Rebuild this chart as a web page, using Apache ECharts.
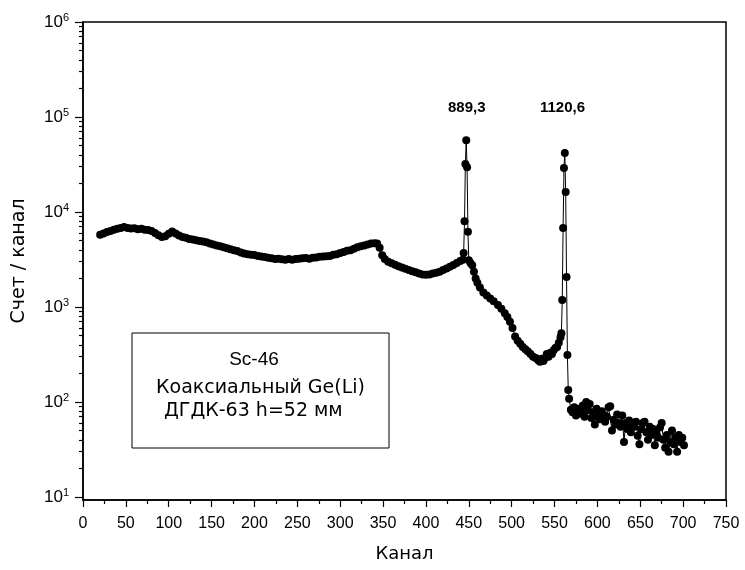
<!DOCTYPE html>
<html><head><meta charset="utf-8">
<script src="https://cdn.jsdelivr.net/npm/echarts@6/dist/echarts.min.js"></script>
<style>html,body{margin:0;padding:0;background:#fff}#c{width:745px;height:570px}</style>
</head><body><div id="c"></div>
<script>
var channels = [20,24,28,32,36,40,44,48,52,56,60,64,68,72,76,80,84,88,92,96,100,104,108,112,116,120,124,128,132,136,140,144,148,152,156,160,164,168,172,176,180,184,188,192,196,200,204,208,212,216,220,224,228,232,236,240,244,248,252,256,260,264,268,272,276,280,284,288,292,296,300,304,308,312,316,320,324,328,332,336,340,343,346,349,352,356,360,364,368,372,376,380,384,388,392,396,400,404,408,412,416,420,424,428,432,436,440,443,444,445,446,447,448,449,450,452,454,456,458,460,463,467,471,475,479,484,488,492,495,498,501,504,507,510,513,516,519,522,525,528,531,533,535,537,539,541,543,545,547,549,551,553,555,557,558,559,560,561,562,563,564,565,566,567,569,571,573,575,577,579,581,583,585,587,589,591,593,595,597,599,601,603,605,607,609,611,613,615,617,619,621,623,625,627,629,631,633,635,637,639,641,643,645,647,649,651,653,655,657,659,661,663,665,667,669,671,673,675,677,679,681,683,685,687,689,691,693,695,697,699,701];
var counts = [5750,5950,6150,6300,6500,6650,6800,6950,6800,6700,6750,6600,6650,6500,6450,6300,6000,5700,5450,5550,5900,6250,5950,5650,5450,5350,5200,5150,5050,4950,4900,4800,4650,4550,4450,4350,4250,4150,4050,3950,3880,3750,3650,3600,3550,3520,3450,3400,3350,3300,3250,3200,3220,3180,3150,3200,3150,3200,3230,3250,3280,3220,3300,3320,3380,3400,3420,3450,3550,3600,3700,3800,3900,3950,4100,4250,4350,4450,4550,4650,4700,4650,4200,3500,3200,3000,2880,2780,2680,2600,2530,2450,2380,2320,2250,2200,2180,2200,2250,2300,2350,2450,2550,2650,2770,2900,3050,3150,3700,8000,32000,57000,29500,6200,3100,2900,2750,2350,2000,1800,1600,1420,1320,1230,1150,1050,960,860,785,700,600,490,440,410,380,360,340,320,300,290,275,265,285,270,290,320,300,330,320,350,370,380,420,480,530,1185,6800,29000,41800,16200,2070,313,134,108,83,78,88,72,80,85,75,92,70,100,82,95,68,78,58,85,72,66,80,74,62,70,88,90,50,65,58,74,60,55,72,38,60,52,64,48,58,55,62,44,36,52,60,62,48,40,55,45,52,35,46,42,54,60,40,33,45,30,38,50,36,42,30,45,38,42,35];
var xTicks = [0,50,100,150,200,250,300,350,400,450,500,550,600,650,700,750];
var yMajor = [10,100,1000,10000,100000,1000000];
var yMinor = [];
[10,100,1000,10000,100000].forEach(function(d){for(var k=2;k<=9;k++) yMinor.push(d*k);});
var peakLabels = ['889,3','1120,6'];
var boxLines = ['Sc-46',' Коаксиальный Ge(Li)','ДГДК-63 h=52 мм'];

var FONT = '"Liberation Sans", Arial, sans-serif';
var WFONT = '"DejaVu Sans", "Liberation Sans", sans-serif';
var data = channels.map(function(c,i){return [c, counts[i]];});
var chart = echarts.init(document.getElementById('c'), null, {renderer:'canvas'});
var yMin = Math.pow(10, 6 - 478/95);
chart.setOption({
  animation:false,
  backgroundColor:'#fff',
  grid:{left:83,right:19,top:22,bottom:70,show:true,borderColor:'#000',borderWidth:1.5,backgroundColor:'transparent'},
  xAxis:{type:'value',min:0,max:750,interval:50,
    axisLine:{lineStyle:{color:'#000',width:1.5}},
    axisTick:{length:7,lineStyle:{color:'#000',width:1.2}},
    minorTick:{show:true,splitNumber:2,length:4,lineStyle:{color:'#000',width:1.2}},
    splitLine:{show:false},minorSplitLine:{show:false},
    axisLabel:{color:'#000',fontSize:16,fontFamily:FONT,margin:16,customValues:xTicks},
    name:'Канал',nameLocation:'middle',nameGap:45,
    nameTextStyle:{color:'#000',fontSize:18,fontFamily:WFONT}},
  yAxis:[{type:'log',logBase:10,min:yMin,max:1000000,position:'left',
    axisLine:{show:true,lineStyle:{color:'#000',width:1.5}},
    axisTick:{show:true,length:8,customValues:yMajor,lineStyle:{color:'#000',width:1.2}},
    splitLine:{show:false},
    axisLabel:{customValues:yMajor,margin:14,color:'#000',fontFamily:FONT,
      formatter:function(v){var e=Math.round(Math.log10(v));return '{b|10}{s|'+e+'}';},
      rich:{b:{fontSize:17,fontFamily:FONT,color:'#000'},s:{fontSize:11,fontFamily:FONT,color:'#000',padding:[0,0,9,0]}}},
    name:'Счет / канал',nameLocation:'middle',nameGap:54,
    nameTextStyle:{color:'#000',fontSize:19,fontFamily:WFONT}},
   {type:'log',logBase:10,min:yMin,max:1000000,position:'left',
    axisLine:{show:false},splitLine:{show:false},axisLabel:{show:false},
    axisTick:{show:true,length:4,customValues:yMinor,lineStyle:{color:'#000',width:1.2}}}],
  series:[{type:'line',data:data,yAxisIndex:0,symbol:'circle',symbolSize:8,showAllSymbol:true,
    itemStyle:{color:'#000'},lineStyle:{color:'#000',width:1}}],
  graphic:[
    {type:'text',left:448,top:100,style:{text:peakLabels[0],font:'bold 15px '+FONT,fill:'#000'}},
    {type:'text',left:540,top:100,style:{text:peakLabels[1],font:'bold 15px '+FONT,fill:'#000'}},
    {type:'rect',shape:{x:132,y:333,width:257,height:115},style:{fill:'#fff',stroke:'#000',lineWidth:1}},
    {type:'text',x:254,y:360,style:{text:boxLines[0],font:'19px '+FONT,fill:'#000',align:'center',verticalAlign:'middle'}},
    {type:'text',x:150,y:388,style:{text:boxLines[1],font:'19px '+WFONT,fill:'#000',align:'left',verticalAlign:'middle'}},
    {type:'text',x:164,y:411,style:{text:boxLines[2],font:'19px '+WFONT,fill:'#000',align:'left',verticalAlign:'middle'}}
  ]
});
</script></body></html>
